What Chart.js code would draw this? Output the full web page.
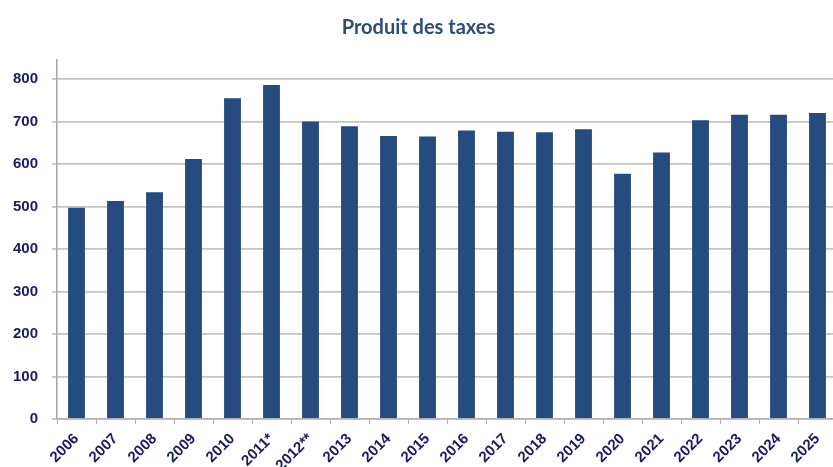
<!DOCTYPE html>
<html>
<head>
<meta charset="utf-8">
<script src="https://cdn.jsdelivr.net/npm/chart.js@4"></script>
<style>
html,body{margin:0;padding:0;background:#fff;overflow:hidden;}
#wrap{width:833px;height:467px;overflow:hidden;}
</style>
</head>
<body>
<div id="wrap"><canvas id="c" width="837" height="467"></canvas></div>
<script>
const categories = ["2006","2007","2008","2009","2010","2011*","2012**","2013","2014","2015","2016","2017","2018","2019","2020","2021","2022","2023","2024","2025"];
const produitValues = [497,513,534,612,755,786,700,689,666,665,679,676,675,682,577,627,703,716,716,720];
const yTickValues = [0,100,200,300,400,500,600,700,800];
const titleText = "Produit des taxes";

new Chart(document.getElementById('c'), {
  type: 'bar',
  data: {
    labels: categories,
    datasets: [{
      label: titleText,
      data: produitValues,
      backgroundColor: '#254b7f',
      borderWidth: 0,
      categoryPercentage: 0.9,
      barPercentage: 0.48
    }]
  },
  options: {
    responsive: false,
    animation: false,
    layout: { padding: { left: 0, right: 0, top: 0, bottom: 0 } },
    plugins: {
      legend: { display: false },
      tooltip: { enabled: false },
      title: {
        display: true,
        text: titleText,
        color: '#2b4c7e',
        font: { family: 'Lato', size: 20, weight: 'bold' },
        padding: { top: 16, bottom: 20 }
      }
    },
    scales: {
      y: {
        min: 0,
        max: 845,
        afterBuildTicks: (s) => { s.ticks = yTickValues.map(v => ({ value: v })); },
        afterFit: (s) => { s.width = 57; },
        border: { display: true, color: '#a6a6a6', width: 1.5 },
        grid: { color: '#c4c4c4', lineWidth: 1.8, tickLength: 5, drawTicks: true },
        ticks: {
          padding: 14,
          color: '#1a1a66',
          font: { family: 'Liberation Sans', size: 15, weight: 'bold' }
        }
      },
      x: {
        afterFit: (s) => { s.height = 48; },
        border: { display: true, color: '#b0b0b0', width: 1.5 },
        grid: { drawOnChartArea: false, drawTicks: true, tickLength: 5, color: '#b0b0b0', offset: true },
        ticks: {
          minRotation: 45,
          maxRotation: 45,
          autoSkip: false,
          padding: 6,
          color: '#1a1a66',
          font: { family: 'Liberation Sans', size: 15, weight: 'bold' }
        }
      }
    }
  }
});
</script>
</body>
</html>
